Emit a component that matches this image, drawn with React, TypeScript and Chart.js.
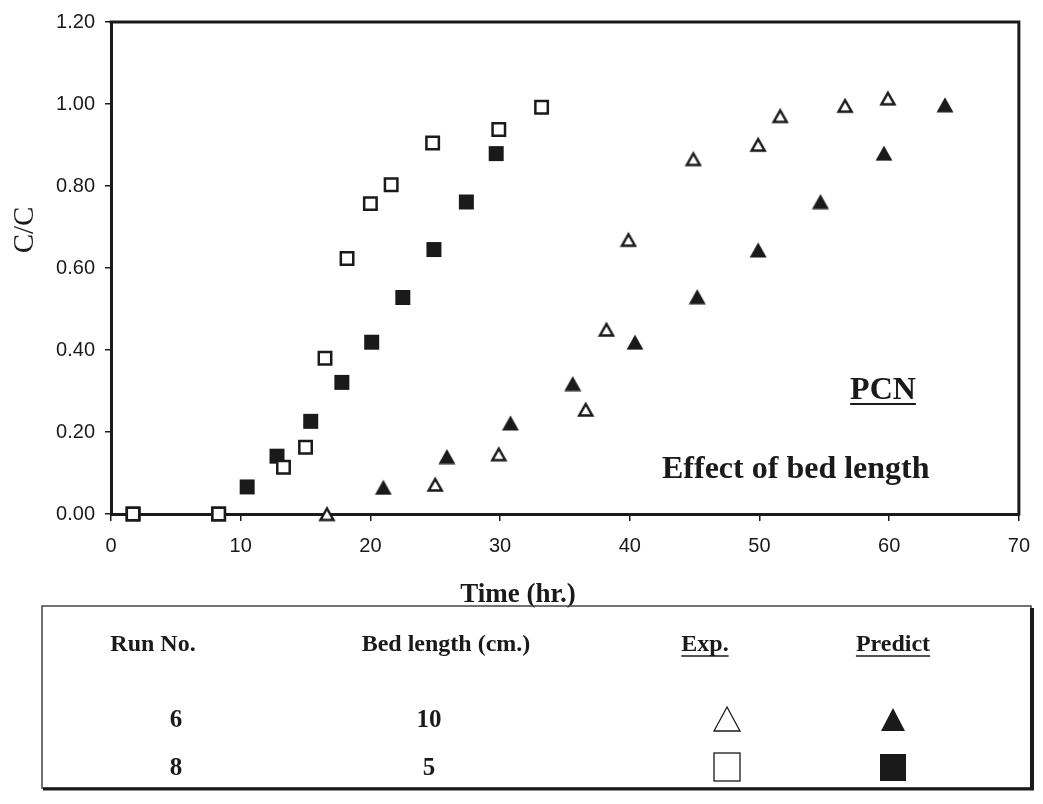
import React, { useEffect, useRef } from "react";
import { Chart, registerables } from "chart.js";

Chart.register(...registerables);

// ---- Data ----
// Run 8 (bed length 5 cm)
const expRun8Time = [1.7, 8.3, 13.3, 15.0, 16.5, 18.2, 20.0, 21.6, 24.8, 29.9, 33.2];
const expRun8Conc = [0, 0, 0.114, 0.163, 0.38, 0.623, 0.757, 0.803, 0.905, 0.938, 0.992];
const predRun8Time = [1.7, 8.3, 10.5, 12.8, 15.4, 17.8, 20.1, 22.5, 24.9, 27.4, 29.7];
const predRun8Conc = [0, 0, 0.066, 0.141, 0.226, 0.321, 0.419, 0.528, 0.645, 0.761, 0.879];
// Run 6 (bed length 10 cm)
const expRun6Time = [16.65, 25.0, 29.9, 36.6, 38.2, 39.9, 44.9, 49.9, 51.6, 56.6, 59.9];
const expRun6Conc = [0, 0.072, 0.146, 0.255, 0.45, 0.669, 0.866, 0.901, 0.971, 0.996, 1.014];
const predRun6Time = [21.0, 25.9, 30.8, 35.6, 40.4, 45.2, 49.9, 54.7, 59.6, 64.3];
const predRun6Conc = [0.065, 0.14, 0.222, 0.318, 0.419, 0.53, 0.644, 0.762, 0.88, 0.998];

// Axis settings
const xMin = 0;
const xMax = 70;
const xStep = 10;
const yMin = 0;
const yMax = 1.2;
const yStep = 0.2;

// Text
const yTitle = "C/C";
const xTitle = "Time (hr.)";
const noteTitle = "PCN";
const noteSubtitle = "Effect of bed length";
const legendHeaders = ["Run No.", "Bed length (cm.)", "Exp.", "Predict"];
const runNumbers = ["6", "8"];
const bedLengths = ["10", "5"];

const ink = "#1a1a1a";
const serif = "'Liberation Serif', 'Times New Roman', Times, serif";
const sans = "'Liberation Sans', Arial, Helvetica, sans-serif";

const toPoints = (xs: number[], ys: number[]) => xs.map((x, i) => ({ x, y: ys[i] }));

function makeTriangleMarker(filled: boolean): HTMLCanvasElement {
  const c = document.createElement("canvas");
  const W = 18;
  const H = filled ? 16 : 17;
  c.width = W;
  c.height = H;
  const g = c.getContext("2d")!;
  g.beginPath();
  if (filled) {
    g.moveTo(9, 0.5);
    g.lineTo(17.5, 15.5);
    g.lineTo(0.5, 15.5);
    g.closePath();
    g.fillStyle = ink;
    g.fill();
  } else {
    g.moveTo(9, 3);
    g.lineTo(15.5, 14.5);
    g.lineTo(2.5, 14.5);
    g.closePath();
    g.fillStyle = "#ffffff";
    g.fill();
    g.strokeStyle = ink;
    g.lineWidth = 2.5;
    g.lineJoin = "miter";
    g.stroke();
  }
  return c;
}

function underline(ctx: CanvasRenderingContext2D, cx: number, y: number, w: number, lw: number) {
  ctx.save();
  ctx.strokeStyle = ink;
  ctx.lineWidth = lw;
  ctx.beginPath();
  ctx.moveTo(cx - w / 2, y);
  ctx.lineTo(cx + w / 2, y);
  ctx.stroke();
  ctx.restore();
}

function triangle(ctx: CanvasRenderingContext2D, cx: number, top: number, w: number, h: number, filled: boolean) {
  ctx.beginPath();
  ctx.moveTo(cx, top);
  ctx.lineTo(cx + w / 2, top + h);
  ctx.lineTo(cx - w / 2, top + h);
  ctx.closePath();
  if (filled) {
    ctx.fillStyle = ink;
    ctx.fill();
  } else {
    ctx.strokeStyle = ink;
    ctx.lineWidth = 1.3;
    ctx.stroke();
  }
}

function square(ctx: CanvasRenderingContext2D, cx: number, top: number, w: number, h: number, filled: boolean) {
  if (filled) {
    ctx.fillStyle = ink;
    ctx.fillRect(cx - w / 2, top, w, h);
  } else {
    ctx.strokeStyle = ink;
    ctx.lineWidth = 1.3;
    ctx.strokeRect(cx - w / 2, top, w, h);
  }
}

const decorPlugin = {
  id: "decor",
  beforeDatasetsDraw(chart: any) {
    const { ctx, chartArea: a } = chart;
    ctx.save();
    ctx.strokeStyle = ink;
    ctx.lineWidth = 3;
    ctx.beginPath();
    ctx.moveTo(a.left - 1.5, a.top);
    ctx.lineTo(a.right, a.top);
    ctx.lineTo(a.right, a.bottom + 1.5);
    ctx.stroke();
    ctx.restore();
  },
  afterDraw(chart: any) {
    const ctx: CanvasRenderingContext2D = chart.ctx;
    ctx.save();
    ctx.fillStyle = ink;

    // Y axis title (rotated)
    ctx.save();
    ctx.translate(33, 230);
    ctx.rotate(-Math.PI / 2);
    ctx.font = `29px ${serif}`;
    ctx.textAlign = "center";
    ctx.textBaseline = "alphabetic";
    ctx.fillText(yTitle, 0, 0);
    ctx.restore();

    // X axis title
    ctx.font = `bold 27px ${serif}`;
    ctx.textAlign = "center";
    ctx.textBaseline = "alphabetic";
    ctx.fillText(xTitle, 518, 602);

    // Annotations
    ctx.font = `bold 32px ${serif}`;
    ctx.textAlign = "center";
    ctx.fillText(noteTitle, 883, 399);
    const pw = ctx.measureText(noteTitle).width;
    underline(ctx, 883, 404, pw, 2);
    ctx.textAlign = "left";
    ctx.fillText(noteSubtitle, 662, 478);

    // Legend box
    ctx.strokeStyle = "#444";
    ctx.lineWidth = 1.5;
    ctx.strokeRect(42, 606, 989, 182);
    ctx.strokeStyle = ink;
    ctx.lineWidth = 4;
    ctx.beginPath();
    ctx.moveTo(1032, 608);
    ctx.lineTo(1032, 790);
    ctx.stroke();
    ctx.lineWidth = 3;
    ctx.beginPath();
    ctx.moveTo(43, 789);
    ctx.lineTo(1034, 789);
    ctx.stroke();

    // Legend headers
    const colX = [153, 446, 705, 893];
    ctx.fillStyle = ink;
    ctx.font = `bold 24px ${serif}`;
    ctx.textAlign = "center";
    legendHeaders.forEach((h, i) => {
      ctx.fillText(h, colX[i], 651);
      if (i >= 2) {
        const w = ctx.measureText(h).width;
        underline(ctx, colX[i], 656, w, 1.5);
      }
    });

    // Legend rows
    const rowBase = [727, 775];
    ctx.font = `bold 25px ${serif}`;
    runNumbers.forEach((r, i) => {
      ctx.fillText(r, 176, rowBase[i]);
      ctx.fillText(bedLengths[i], 429, rowBase[i]);
    });
    triangle(ctx, 727, 707, 26, 24, false);
    triangle(ctx, 893, 708, 24, 23, true);
    square(ctx, 727, 753, 26, 28, false);
    square(ctx, 893, 754, 26, 27, true);

    ctx.restore();
  },
};

export default function App() {
  const ref = useRef<HTMLCanvasElement>(null);

  useEffect(() => {
    const canvas = ref.current;
    if (!canvas) return;
    const openTriangle = makeTriangleMarker(false);
    const filledTriangle = makeTriangleMarker(true);
    const chart = new Chart(canvas, {
      type: "scatter",
      data: {
        datasets: [
          {
            label: "Exp. run 8",
            data: toPoints(expRun8Time, expRun8Conc),
            pointStyle: "rect",
            pointRadius: 8.8,
            borderWidth: 2.5,
            borderColor: ink,
            backgroundColor: "#ffffff",
            clip: false,
          },
          {
            label: "Exp. run 6",
            data: toPoints(expRun6Time, expRun6Conc),
            pointStyle: openTriangle,
            pointRadius: 8,
            clip: false,
          },
          {
            label: "Predict run 8",
            data: toPoints(predRun8Time, predRun8Conc),
            pointStyle: "rect",
            pointRadius: 10.6,
            borderWidth: 0,
            borderColor: ink,
            backgroundColor: ink,
            clip: false,
          },
          {
            label: "Predict run 6",
            data: toPoints(predRun6Time, predRun6Conc),
            pointStyle: filledTriangle,
            pointRadius: 9.8,
            clip: false,
          },
        ] as any,
      },
      options: {
        responsive: false,
        animation: false,
        events: [],
        layout: { padding: { left: 0, top: 21, right: 19, bottom: 0 } },
        plugins: {
          legend: { display: false },
          tooltip: { enabled: false },
        },
        scales: {
          x: {
            type: "linear",
            min: xMin,
            max: xMax,
            ticks: {
              stepSize: xStep,
              color: ink,
              font: { family: sans, size: 20 },
              padding: 13,
              maxRotation: 0,
            },
            grid: {
              display: true,
              drawOnChartArea: false,
              drawTicks: true,
              tickLength: 7,
              color: ink,
              lineWidth: 1.5,
            },
            border: { display: true, color: ink, width: 3 },
            afterFit: (s: any) => {
              s.height = 290;
            },
          },
          y: {
            type: "linear",
            min: yMin,
            max: yMax,
            ticks: {
              stepSize: yStep,
              color: ink,
              font: { family: sans, size: 20 },
              padding: 10,
              callback: (v: any) => Number(v).toFixed(2),
            },
            grid: {
              display: true,
              drawOnChartArea: false,
              drawTicks: true,
              tickLength: 6,
              color: ink,
              lineWidth: 1.5,
            },
            border: { display: true, color: ink, width: 3 },
            afterFit: (s: any) => {
              s.width = 111;
            },
          },
        },
      } as any,
      plugins: [decorPlugin],
    });
    return () => chart.destroy();
  }, []);

  return (
    <div
      style={{
        position: "fixed",
        left: 0,
        top: 0,
        width: 1043,
        height: 804,
        background: "#ffffff",
      }}
    >
      <canvas ref={ref} width={1043} height={804} style={{ display: "block", width: 1043, height: 804 }} />
    </div>
  );
}
